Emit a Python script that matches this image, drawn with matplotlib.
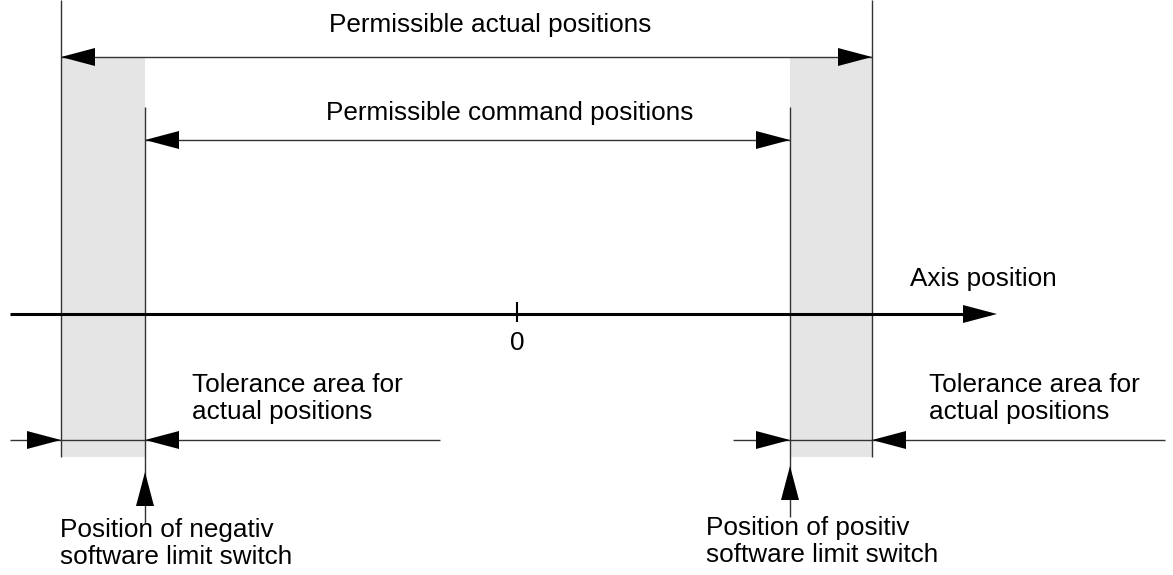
import matplotlib.pyplot as plt
from matplotlib.patches import Polygon, Rectangle

plt.rcParams['font.family'] = ['Liberation Sans', 'DejaVu Sans']

# diagram positions (pixel-like units, y grows downwards)
neg_limit = 145       # negative software limit switch
pos_limit = 790       # positive software limit switch
neg_tol = 61          # end of tolerance area, negative side
pos_tol = 872         # end of tolerance area, positive side
zero_x = 517
axis_y = 314
actual_y = 57
command_y = 140
tol_y = 440

labels_top = ['Permissible actual positions', 'Permissible command positions']
tol_label = ['Tolerance area for', 'actual positions']
neg_label = ['Position of negativ', 'software limit switch']
pos_label = ['Position of positiv', 'software limit switch']

FS = 18.8

fig = plt.figure(figsize=(11.73, 5.75), dpi=100)
ax = fig.add_axes([0, 0, 1, 1])
ax.set_xlim(0, 1173)
ax.set_ylim(575, 0)
ax.axis('off')

HL, HW = 34, 9


def head(x, y, d):
    # d: 'l','r','u' - direction arrow points
    if d == 'r':
        pts = [(x, y), (x - HL, y - HW), (x - HL, y + HW)]
    elif d == 'l':
        pts = [(x, y), (x + HL, y - HW), (x + HL, y + HW)]
    else:
        pts = [(x, y), (x - HW, y + HL), (x + HW, y + HL)]
    ax.add_patch(Polygon(pts, closed=True, color='black', lw=0, zorder=5))


def line(xs, ys, lw=1.0, c='#333333'):
    ax.plot(xs, ys, color=c, lw=lw, solid_capstyle='butt', zorder=3)


def label(x, y, lines, ha='left', step=26.5):
    for i, s in enumerate(lines):
        ax.text(x, y + i * step, s, fontsize=FS, ha=ha, va='baseline')


# grey tolerance bands
for a, b in [(neg_tol, neg_limit), (pos_limit, pos_tol)]:
    ax.add_patch(Rectangle((a, actual_y), b - a, 457 - actual_y,
                           color='#e5e5e5', lw=0, zorder=1))

# vertical boundary lines
line([neg_tol, neg_tol], [0, 457])
line([pos_tol, pos_tol], [0, 457])
line([neg_limit, neg_limit], [107, 523])
line([pos_limit, pos_limit], [107, 517])

# permissible actual positions
line([neg_tol, pos_tol], [actual_y, actual_y])
head(neg_tol, actual_y, 'l')
head(pos_tol, actual_y, 'r')
label(490, 32, [labels_top[0]], ha='center')

# permissible command positions
line([neg_limit, pos_limit], [command_y, command_y])
head(neg_limit, command_y, 'l')
head(pos_limit, command_y, 'r')
label(510, 120, [labels_top[1]], ha='center')

# axis
line([10, 990], [axis_y, axis_y], lw=2.2, c='black')
head(997, axis_y, 'r')
line([zero_x, zero_x], [302, 322], lw=1.5, c='black')
label(zero_x, 350, ['0'], ha='center')
label(910, 286, ['Axis position'])

# tolerance dimension lines
line([10, 440], [tol_y, tol_y])
head(neg_tol, tol_y, 'r')
head(neg_limit, tol_y, 'l')
line([733, 1165], [tol_y, tol_y])
head(pos_limit, tol_y, 'r')
head(pos_tol, tol_y, 'l')
label(192, 392, tol_label)
label(929, 392, tol_label)

# limit switch markers
head(neg_limit, 472, 'u')
head(pos_limit, 466, 'u')
label(60, 537, neg_label)
label(706, 535, pos_label)

fig.savefig('out.png', dpi=100)
